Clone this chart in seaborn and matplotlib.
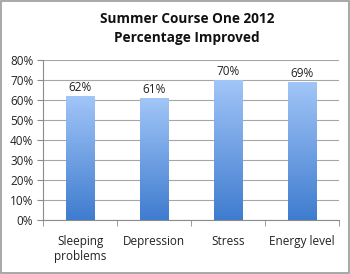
import matplotlib
matplotlib.use("Agg")
import matplotlib.pyplot as plt
import seaborn as sns
import numpy as np
import pandas as pd
from matplotlib.colors import LinearSegmentedColormap
from matplotlib.patches import Rectangle
from matplotlib.ticker import MultipleLocator, FuncFormatter

categories = ["Sleeping\nproblems", "Depression", "Stress", "Energy level"]
values = [0.62, 0.61, 0.70, 0.69]
labels = ["62%", "61%", "70%", "69%"]
title = "Summer Course One 2012\nPercentage Improved"

sns.set_style("white")
plt.rcParams['font.family'] = ['Open Sans', 'DejaVu Sans']

fig = plt.figure(figsize=(3.5, 2.74), dpi=100)
ax = fig.add_axes([0.123, 0.197, 0.846, 0.584])

df = pd.DataFrame({"cat": categories, "val": values})
sns.barplot(data=df, x="cat", y="val", ax=ax, width=0.39, color="#5b93dc", zorder=3)

cmap = LinearSegmentedColormap.from_list("g", ["#3f7ccf", "#a2c6f8"])
grad = np.linspace(0, 1, 256).reshape(-1, 1)
for p, lab in zip(ax.patches, labels):
    x0, y0 = p.get_x(), p.get_y()
    w, h = p.get_width(), p.get_height()
    im = ax.imshow(grad, cmap=cmap, origin="lower", aspect="auto",
                   extent=(x0, x0 + w, y0, y0 + h), zorder=3)
    im.set_clip_path(p)
    p.set_facecolor("none")
    p.set_edgecolor("none")
    ax.text(x0 + w / 2, y0 + h + 0.012, lab, ha="center", va="bottom",
            fontsize=8.5, color="#222222", zorder=4)

ax.set_xlim(-0.5, 3.5)
ax.set_ylim(0, 0.8)
ax.yaxis.set_major_locator(MultipleLocator(0.1))
ax.yaxis.set_major_formatter(FuncFormatter(lambda v, _: f"{v*100:.0f}%"))
ax.grid(axis="y", color="#a6a6a6", linewidth=0.8, zorder=0)
ax.set_axisbelow(True)
for s in ["top", "right"]:
    ax.spines[s].set_visible(False)
for s in ["left", "bottom"]:
    ax.spines[s].set_color("#8c8c8c")
    ax.spines[s].set_linewidth(0.8)
ax.set_xlabel("")
ax.set_ylabel("")
ax.tick_params(axis="y", which="major", length=4, color="#8c8c8c", direction="out",
               left=True, labelsize=8.5, labelcolor="#222222", pad=3)
ax.tick_params(axis="x", which="major", length=0, labelsize=8.5, labelcolor="#222222", pad=11)
ax.set_xticks(np.arange(-0.5, 4.0, 1.0), minor=True)
ax.tick_params(axis="x", which="minor", length=4, color="#8c8c8c", direction="out", bottom=True)

fig.text(0.535, 0.897, title, ha="center", va="center", fontsize=9.8,
         fontweight="bold", color="#111111", linespacing=1.45)

fig.patches.append(Rectangle((0.003, 0.004), 0.994, 0.992, transform=fig.transFigure,
                             fill=False, edgecolor="#9a9a9a", linewidth=1.2))

fig.savefig("out.png", dpi=100)
